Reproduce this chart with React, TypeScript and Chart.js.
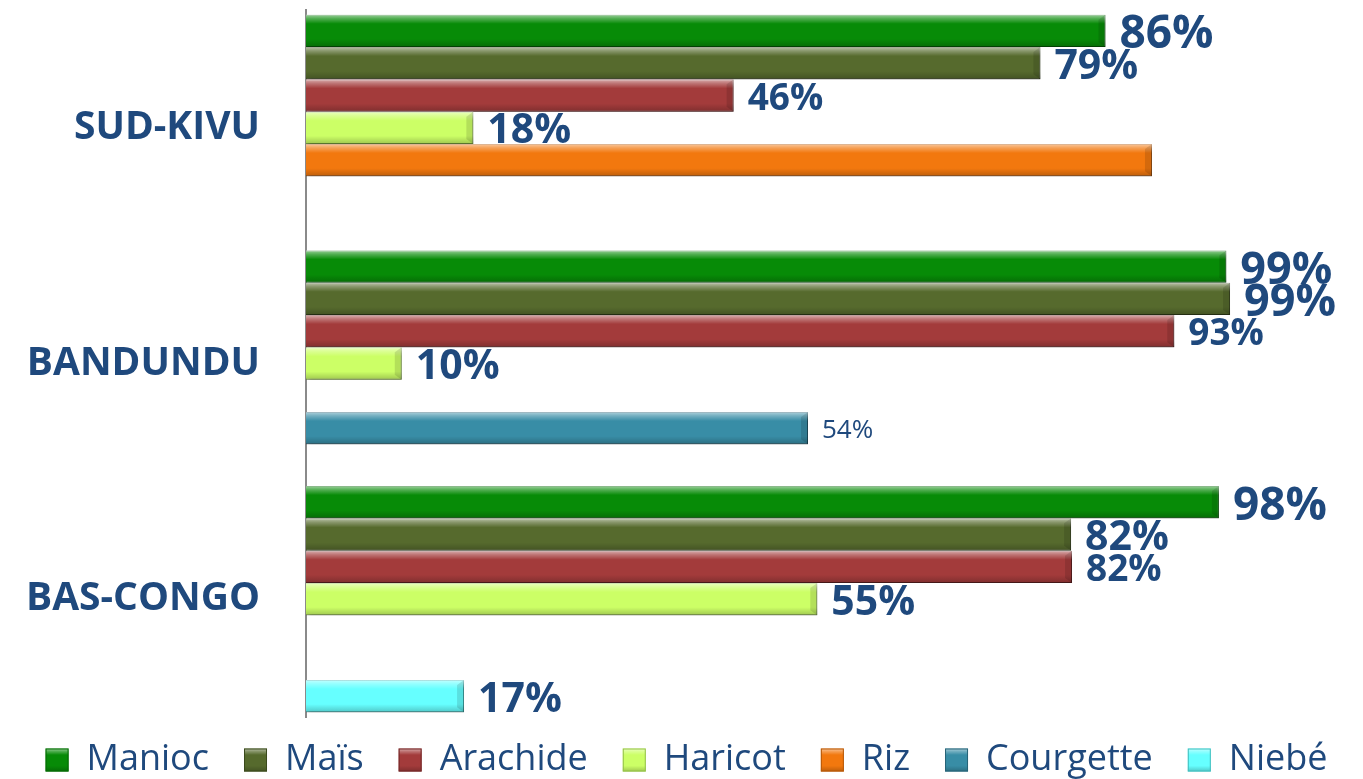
import React, { useEffect, useRef } from "react";
import { Chart, registerables } from "chart.js";

Chart.register(...registerables);

// ---------- data ----------
const categories = ["SUD-KIVU", "BANDUNDU", "BAS-CONGO"];
const seriesNames = ["Manioc", "Maïs", "Arachide", "Haricot", "Riz", "Courgette", "Niebé"];
const manioc = [86, 99, 98.2];
const mais = [79, 99.4, 82.3];
const arachide = [46, 93.4, 82.4];
const haricot = [18, 10.3, 55];
const riz = [91, null, null];
const courgette = [null, 54, null];
const niebe = [null, null, 17];
const seriesValues: (number | null)[][] = [manioc, mais, arachide, haricot, riz, courgette, niebe];
const showValueLabel = [true, true, true, true, false, true, true];

// ---------- styles ----------
const fillColors = ["#078B07", "#566A2D", "#A33B3B", "#CCFF66", "#F2780E", "#388DA6", "#66FFFF"];
const edgeColors = ["#056A05", "#3B4A1D", "#722828", "#93C04A", "#B55808", "#276377", "#45BDBD"];
const labelFontSizes = [
  [46, 45, 46],
  [41, 45, 41],
  [37, 37, 37],
  [41, 41, 41],
  [0, 0, 0],
  [0, 26, 0],
  [0, 0, 41],
];
const labelWeights = [
  ["bold", "bold", "bold"],
  ["bold", "bold", "bold"],
  ["bold", "bold", "bold"],
  ["bold", "bold", "bold"],
  ["bold", "bold", "bold"],
  ["normal", "normal", "normal"],
  ["bold", "bold", "bold"],
];
const TEXT_COLOR = "#1F497D";
const FONT = '"Open Sans", "DejaVu Sans", sans-serif';
const LEGEND_GAP = 10; // blank space before each legend marker
const LEGEND_MARK = 23;

function glossRect(ctx: CanvasRenderingContext2D, x: number, y: number, w: number, h: number) {
  const g = ctx.createLinearGradient(0, y, 0, y + h);
  g.addColorStop(0, "rgba(255,255,255,0.6)");
  g.addColorStop(0.12, "rgba(255,255,255,0.3)");
  g.addColorStop(0.28, "rgba(255,255,255,0)");
  g.addColorStop(0.75, "rgba(0,0,0,0)");
  g.addColorStop(1, "rgba(0,0,0,0.22)");
  ctx.fillStyle = g;
  ctx.fillRect(x, y, w, h);
}

const barDecor = {
  id: "barDecor",
  beforeDatasetsDraw(chart: any) {
    const ctx = chart.ctx;
    ctx.save();
    ctx.shadowColor = "rgba(0,0,0,0.28)";
    ctx.shadowBlur = 4;
    ctx.shadowOffsetX = 2;
    ctx.shadowOffsetY = 3;
  },
  afterDatasetsDraw(chart: any) {
    const ctx = chart.ctx;
    ctx.restore();
    ctx.save();
    chart.data.datasets.forEach((ds: any, i: number) => {
      const meta = chart.getDatasetMeta(i);
      meta.data.forEach((el: any, j: number) => {
        const v = seriesValues[i][j];
        if (v === null || v === undefined) return;
        const { x, y, base, height } = el.getProps(["x", "y", "base", "height"], true);
        const top = y - height / 2;
        const w = x - base;
        glossRect(ctx, base, top, w, height);
        // right end bevel
        ctx.beginPath();
        ctx.moveTo(x, top);
        ctx.lineTo(x, top + height);
        ctx.lineTo(x - 7, top + height - 5);
        ctx.lineTo(x - 7, top + 5);
        ctx.closePath();
        ctx.fillStyle = "rgba(0,0,0,0.12)";
        ctx.fill();
      });
    });
    // value labels
    chart.data.datasets.forEach((ds: any, i: number) => {
      if (!showValueLabel[i]) return;
      const meta = chart.getDatasetMeta(i);
      meta.data.forEach((el: any, j: number) => {
        const v = seriesValues[i][j];
        if (v === null || v === undefined) return;
        const size = labelFontSizes[i][j];
        if (!size) return;
        const { x, y } = el.getProps(["x", "y"], true);
        ctx.font = `${labelWeights[i][j]} ${size}px ${FONT}`;
        ctx.fillStyle = TEXT_COLOR;
        ctx.textAlign = "left";
        ctx.textBaseline = "alphabetic";
        ctx.fillText(`${Math.round(v)}%`, x + 14, y + size * 0.357 + 1);
      });
    });
    ctx.restore();
  },
  afterDraw(chart: any) {
    const legend = chart.legend;
    if (!legend || !legend.legendHitBoxes) return;
    const ctx = chart.ctx;
    const opts = legend.options.labels;
    const fs = opts.font.size;
    ctx.save();
    legend.legendHitBoxes.forEach((hb: any, i: number) => {
      const bx = hb.left + LEGEND_GAP;
      const by = hb.top + Math.max((fs - LEGEND_MARK) / 2, 0);
      ctx.fillStyle = fillColors[i];
      ctx.fillRect(bx, by, LEGEND_MARK, LEGEND_MARK);
      glossRect(ctx, bx, by, LEGEND_MARK, LEGEND_MARK);
      ctx.strokeStyle = edgeColors[i];
      ctx.lineWidth = 1;
      ctx.strokeRect(bx + 0.5, by + 0.5, LEGEND_MARK - 1, LEGEND_MARK - 1);
    });
    ctx.restore();
  },
};

export default function App() {
  const canvasRef = useRef<HTMLCanvasElement | null>(null);

  useEffect(() => {
    document.body.style.margin = "0";
    const canvas = canvasRef.current;
    if (!canvas) return;
    const chart = new Chart(canvas, {
      type: "bar",
      data: {
        labels: categories,
        datasets: seriesNames.map((name, i) => ({
          label: name,
          data: seriesValues[i],
          backgroundColor: fillColors[i],
          borderColor: edgeColors[i],
          borderWidth: 1,
          categoryPercentage: 0.96,
          barPercentage: 1,
        })),
      },
      options: {
        indexAxis: "y",
        animation: false,
        responsive: true,
        maintainAspectRatio: false,
        layout: { padding: { top: 10, right: 0, bottom: -9, left: 0 } },
        scales: {
          x: { display: false, min: 0, max: 113.7, grid: { display: false } },
          y: {
            grid: { display: false, drawTicks: false },
            border: { display: true, color: "#8a8a8a", width: 2 },
            ticks: {
              color: TEXT_COLOR,
              font: { family: FONT, size: 39, weight: "bold" },
              padding: 46,
            },
            afterFit: (s: any) => {
              s.width = 306;
              s.paddingTop = 0;
              s.paddingBottom = 0;
              s._computeLabelArea = () => null;
            },
          },
        },
        plugins: {
          legend: {
            position: "bottom",
            labels: {
              boxWidth: LEGEND_GAP + LEGEND_MARK,
              boxHeight: LEGEND_MARK,
              padding: 25,
              color: TEXT_COLOR,
              font: { family: FONT, size: 36 },
              generateLabels: (chart: any) =>
                chart.data.datasets.map((ds: any, i: number) => ({
                  text: ds.label,
                  fillStyle: "rgba(0,0,0,0)",
                  strokeStyle: "rgba(0,0,0,0)",
                  lineWidth: 0,
                  fontColor: TEXT_COLOR,
                  hidden: false,
                  datasetIndex: i,
                })),
            },
          },
          tooltip: { enabled: false },
        },
      } as any,
      plugins: [barDecor],
    });
    return () => chart.destroy();
  }, []);

  return (
    <div style={{ width: 1363, height: 779, position: "relative" }}>
      <canvas ref={canvasRef} style={{ display: "block" }} />
    </div>
  );
}
